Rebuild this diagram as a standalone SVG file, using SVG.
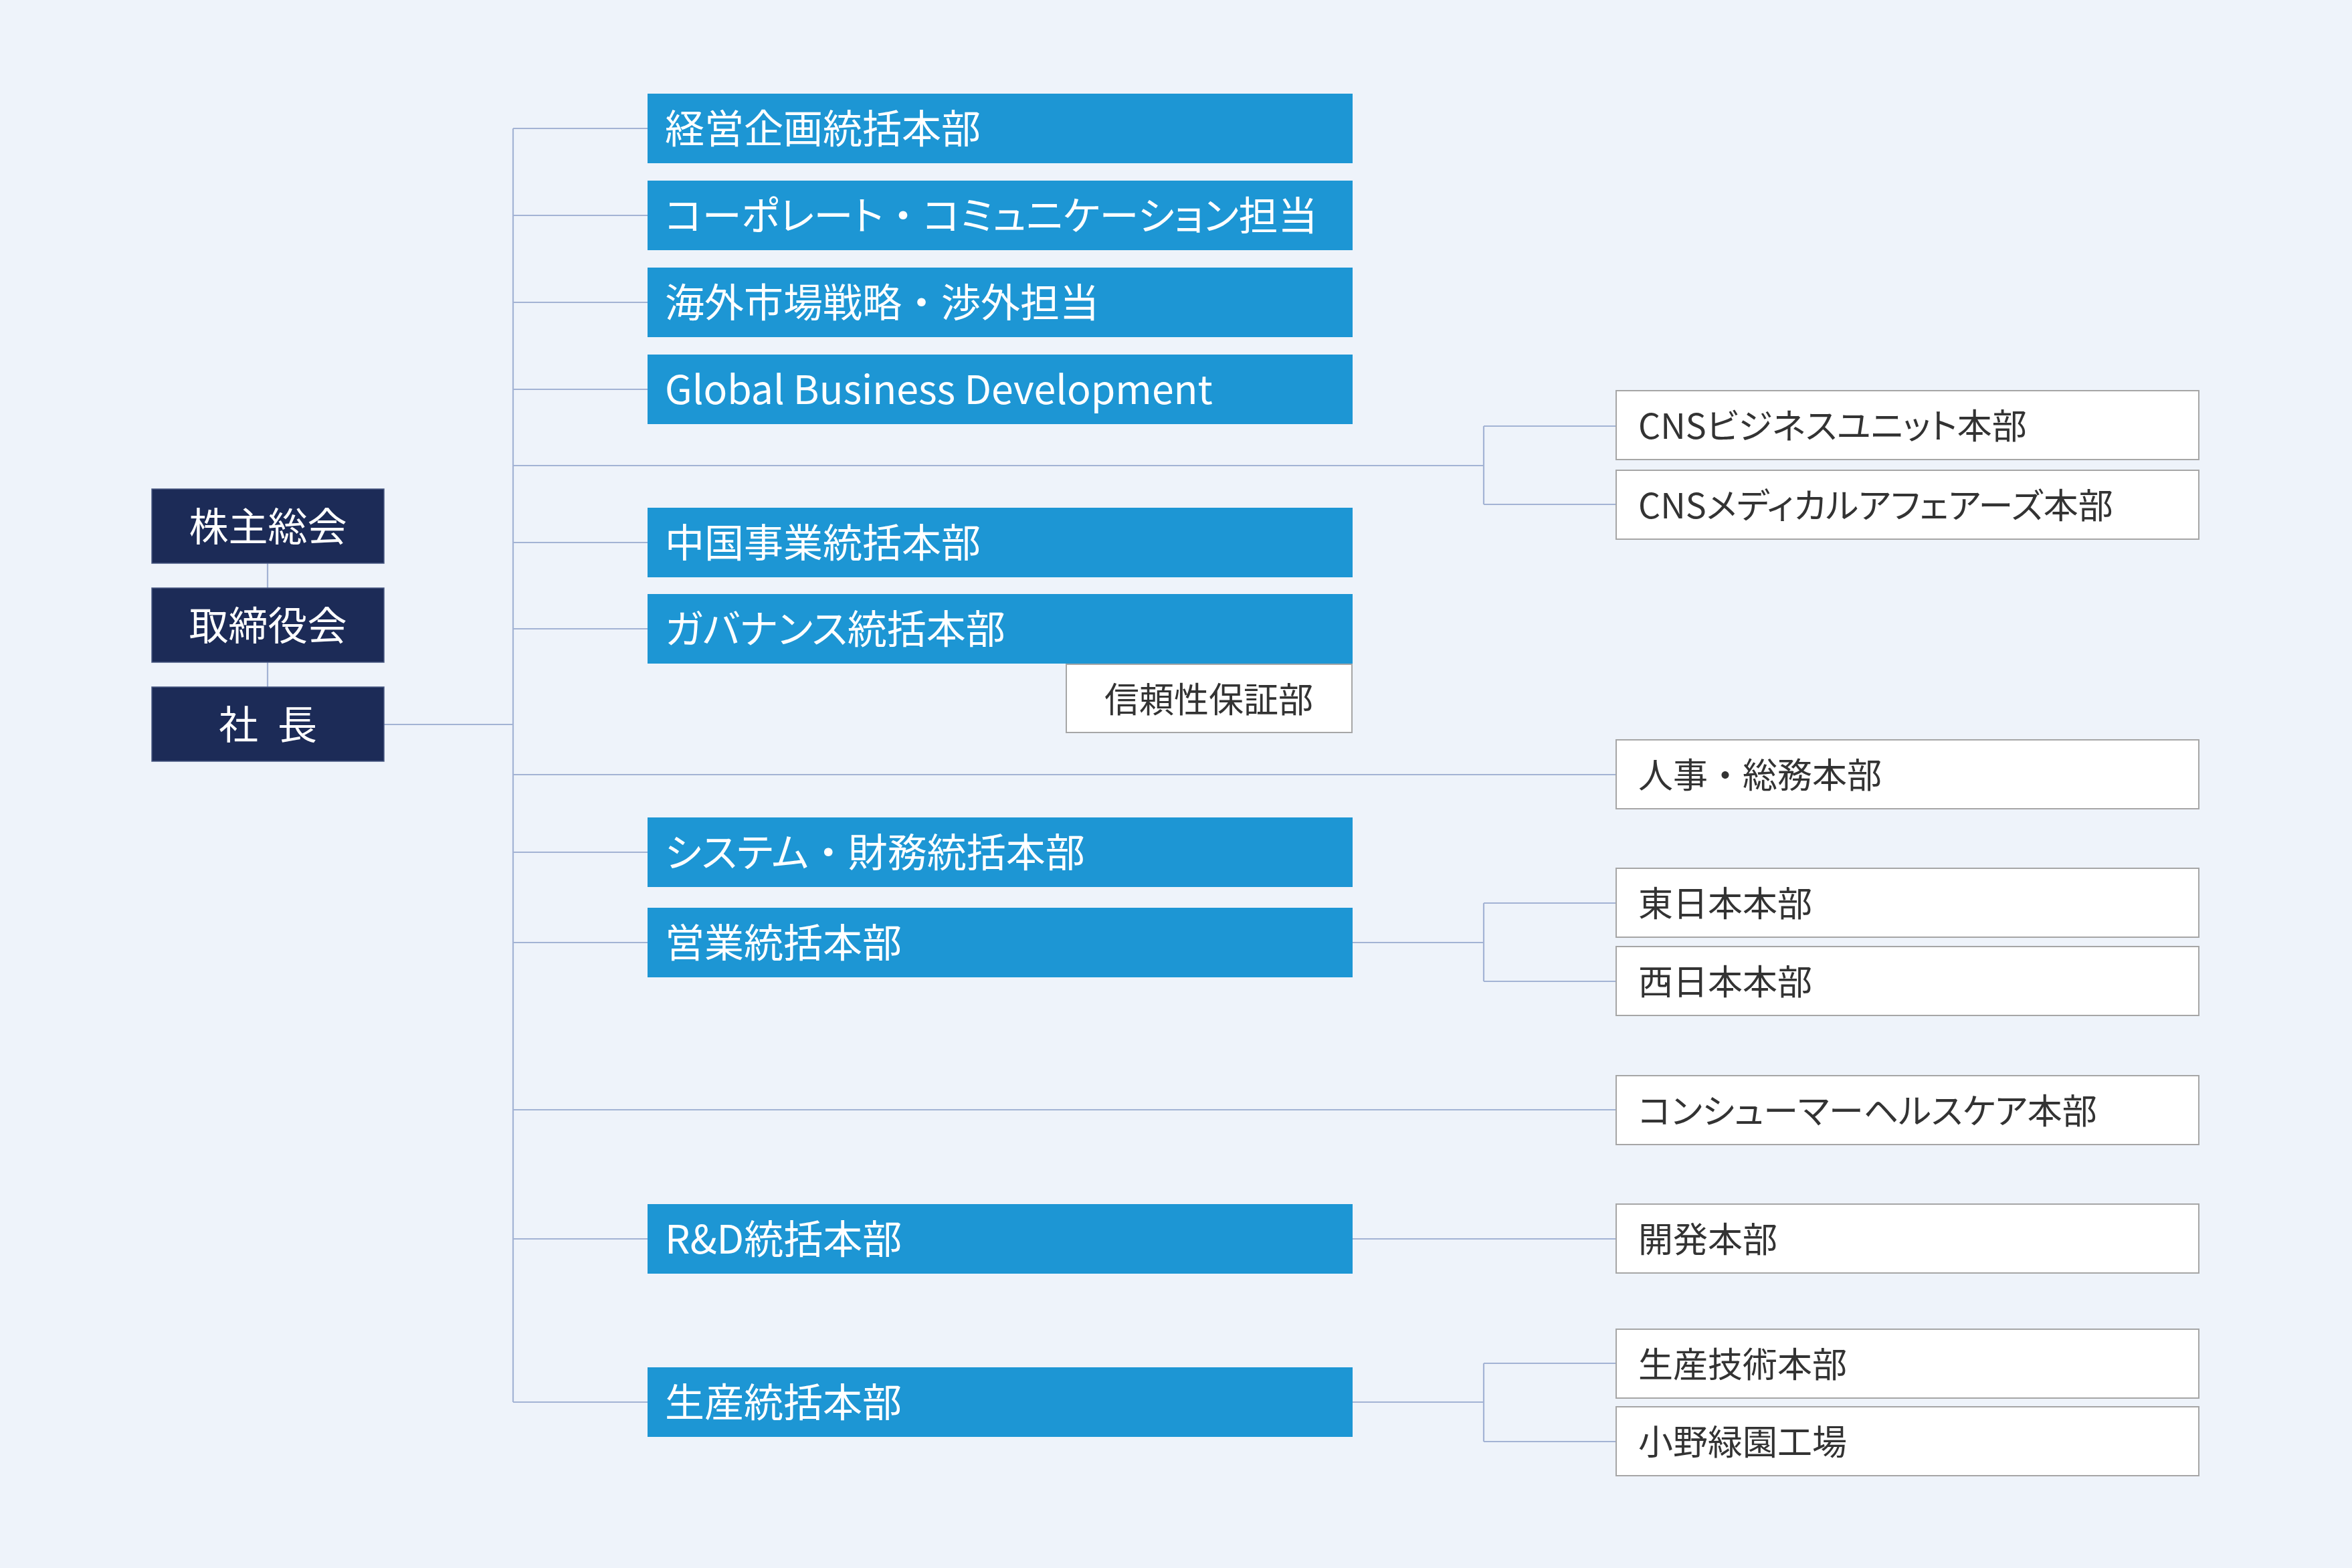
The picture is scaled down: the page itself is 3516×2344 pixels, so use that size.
<svg xmlns="http://www.w3.org/2000/svg" width="3516" height="2344" viewBox="0 0 3516 2344">
<style>
text{font-family:"Noto Sans CJK JP","Noto Sans",sans-serif;font-feature-settings:"palt" 1;}
tspan.fw{font-feature-settings:"palt" 0;}
.bg{fill:#eef3fa;}
.dark rect{fill:#1c2b57;stroke:#4a5a82;stroke-width:1.5;}
.dark text{fill:#ffffff;font-size:59px;text-anchor:middle;}
.blue rect{fill:#1d96d4;}
.blue text{fill:#ffffff;font-size:59px;}
.white rect{fill:#ffffff;stroke:#a6a6a6;stroke-width:2;}
.white text{fill:#333333;font-size:52px;}
#connectors path{fill:none;stroke:#a3b3d4;stroke-width:2.2;}
</style>
<rect class="bg" x="0" y="0" width="3516" height="2344"/>
<g id="connectors">
<path d="M400 842V879M400 990V1027"/>
<path d="M574 1083H767"/>
<path d="M767 192V2096"/>
<path d="M767 192H968M767 322H968M767 452H968M767 582H968M767 811H968M767 940H968M767 1274H968M767 1409H968M767 1852H968M767 2096H968"/>
<path d="M767 696H2218M2218 637V754M2218 637H2416M2218 754H2416"/>
<path d="M767 1158H2416"/>
<path d="M2022 1409H2218M2218 1350V1467M2218 1350H2416M2218 1467H2416"/>
<path d="M767 1659H2416"/>
<path d="M2022 1852H2416"/>
<path d="M2022 2096H2218M2218 2038V2155M2218 2038H2416M2218 2155H2416"/>
</g>
<g id="n-kabunushi" class="dark"><rect x="227" y="731" width="347" height="111"/><text x="400.5" y="809">株主総会</text></g>
<g id="n-torishimariyaku" class="dark"><rect x="227" y="879" width="347" height="111"/><text x="400.5" y="957">取締役会</text></g>
<g id="n-shacho" class="dark"><rect x="227" y="1027" width="347" height="111"/><text x="400.5" y="1105" word-spacing="16">社 長</text></g>
<g id="n-keiei" class="blue"><rect x="968" y="140" width="1054" height="104"/><text x="994" y="214">経営企画統括本部</text></g>
<g id="n-corporate" class="blue"><rect x="968" y="270" width="1054" height="104"/><text x="994" y="344">コーポレート<tspan class="fw">・</tspan>コミュニケーション担当</text></g>
<g id="n-kaigai" class="blue"><rect x="968" y="400" width="1054" height="104"/><text x="994" y="474">海外市場戦略<tspan class="fw">・</tspan>渉外担当</text></g>
<g id="n-global" class="blue"><rect x="968" y="530" width="1054" height="104"/><text x="994" y="604">Global Business Development</text></g>
<g id="n-chugoku" class="blue"><rect x="968" y="759" width="1054" height="104"/><text x="994" y="833">中国事業統括本部</text></g>
<g id="n-governance" class="blue"><rect x="968" y="888" width="1054" height="104"/><text x="994" y="962">ガバナンス統括本部</text></g>
<g id="n-shinrai" class="white"><rect x="1594" y="993" width="427" height="102"/><text x="1807" y="1065" text-anchor="middle">信頼性保証部</text></g>
<g id="n-system" class="blue"><rect x="968" y="1222" width="1054" height="104"/><text x="994" y="1296">システム<tspan class="fw">・</tspan>財務統括本部</text></g>
<g id="n-eigyo" class="blue"><rect x="968" y="1357" width="1054" height="104"/><text x="994" y="1431">営業統括本部</text></g>
<g id="n-rd" class="blue"><rect x="968" y="1800" width="1054" height="104"/><text x="994" y="1874">R&amp;D統括本部</text></g>
<g id="n-seisan" class="blue"><rect x="968" y="2044" width="1054" height="104"/><text x="994" y="2118">生産統括本部</text></g>
<g id="n-cns-bu" class="white"><rect x="2416" y="584" width="871" height="103"/><text x="2449" y="656">CNSビジネスユニット本部</text></g>
<g id="n-cns-ma" class="white"><rect x="2416" y="703" width="871" height="103"/><text x="2449" y="775">CNSメディカルアフェアーズ本部</text></g>
<g id="n-jinji" class="white"><rect x="2416" y="1106" width="871" height="103"/><text x="2449" y="1178">人事<tspan class="fw">・</tspan>総務本部</text></g>
<g id="n-higashi" class="white"><rect x="2416" y="1298" width="871" height="103"/><text x="2449" y="1370">東日本本部</text></g>
<g id="n-nishi" class="white"><rect x="2416" y="1415" width="871" height="103"/><text x="2449" y="1487">西日本本部</text></g>
<g id="n-consumer" class="white"><rect x="2416" y="1608" width="871" height="103"/><text x="2449" y="1680">コンシューマーヘルスケア本部</text></g>
<g id="n-kaihatsu" class="white"><rect x="2416" y="1800" width="871" height="103"/><text x="2449" y="1872">開発本部</text></g>
<g id="n-seisangijutsu" class="white"><rect x="2416" y="1987" width="871" height="103"/><text x="2449" y="2059">生産技術本部</text></g>
<g id="n-ono" class="white"><rect x="2416" y="2103" width="871" height="103"/><text x="2449" y="2175">小野緑園工場</text></g>
</svg>
